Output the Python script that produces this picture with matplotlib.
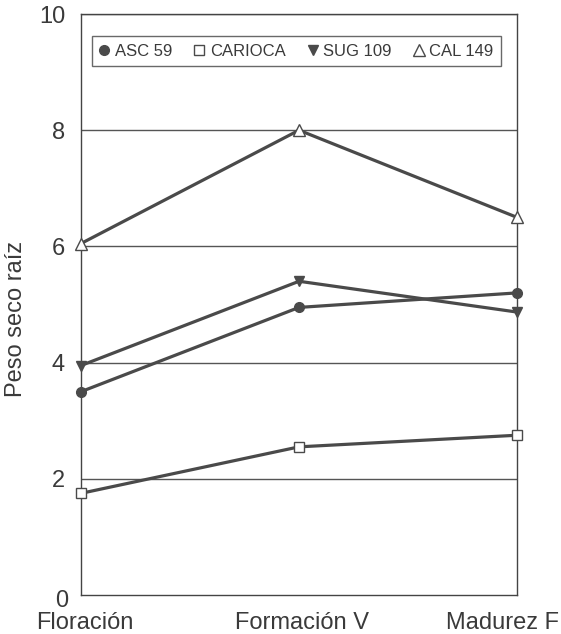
import matplotlib
matplotlib.use("Agg")
import matplotlib.pyplot as plt
from matplotlib.transforms import ScaledTranslation

plt.rcParams['font.family'] = ['Liberation Sans', 'DejaVu Sans']

stages = ["Floración", "Formación V", "Madurez F"]
asc59 = [3.5, 4.95, 5.2]
carioca = [1.75, 2.55, 2.75]
sug109 = [3.95, 5.4, 4.87]
cal149 = [6.05, 8.0, 6.5]
yticks = [2, 4, 6, 8, 10]

fig = plt.figure(figsize=(5.61, 6.34), dpi=100)
ax = fig.add_axes([0.1444, 0.0615, 0.7772, 0.9164])
x = list(range(len(stages)))
lc = "#4a4a4a"
tc = "#3a3a3a"
ax.plot(x, asc59, color=lc, lw=2.3, marker='o', ms=7, mfc=lc, mec=lc, clip_on=False, label="ASC 59", zorder=3)
ax.plot(x, carioca, color=lc, lw=2.3, marker='s', ms=7, mfc='white', mec=lc, mew=1.0, clip_on=False, label="CARIOCA", zorder=3)
ax.plot(x, sug109, color=lc, lw=2.3, marker='v', ms=7, mfc=lc, mec=lc, clip_on=False, label="SUG 109", zorder=3)
ax.plot(x, cal149, color=lc, lw=2.3, marker='^', ms=8, mfc='white', mec=lc, mew=1.0, clip_on=False, label="CAL 149", zorder=3)

ax.set_xlim(0, 2)
ax.set_ylim(0, 10)
ax.set_yticks(yticks)
ax.set_yticklabels([str(v) for v in yticks], fontsize=17, color=tc)
ax.set_xticks(x)
ax.set_xticklabels(stages, fontsize=17, color=tc)
ax.tick_params(axis='y', length=0, pad=11.5)
ax.tick_params(axis='x', length=0, pad=12)
offsets = [4, 3, -15]
for lab, dx in zip(ax.get_xticklabels(), offsets):
    lab.set_transform(lab.get_transform() + ScaledTranslation(dx / 100, 0, fig.dpi_scale_trans))
ax.grid(axis='y', color="#555555", lw=1.0)
ax.set_axisbelow(True)
for s in ax.spines.values():
    s.set_color("#444444")
    s.set_linewidth(1.0)
ax.annotate("0", xy=(0, 0), xycoords=('axes fraction', 'data'), xytext=(-13, -6),
            textcoords='offset pixels', fontsize=17, color=tc, ha='right', va='center')
ax.set_ylabel("Peso seco raíz", fontsize=17, color=tc)
ax.yaxis.set_label_coords(-0.124, 0.475)

leg = ax.legend(loc='upper left', bbox_to_anchor=(0.025, 0.962), ncol=4, fontsize=12,
                frameon=True, fancybox=False, edgecolor="#444444", handlelength=0.6,
                handletextpad=0.35, columnspacing=1.3, borderpad=0.45, borderaxespad=0,
                numpoints=1)
for h, t in zip(leg.legend_handles, leg.get_texts()):
    h.set_linestyle('None')
    t.set_color(tc)
leg.get_frame().set_linewidth(1.0)

fig.savefig("out.png", dpi=100)
